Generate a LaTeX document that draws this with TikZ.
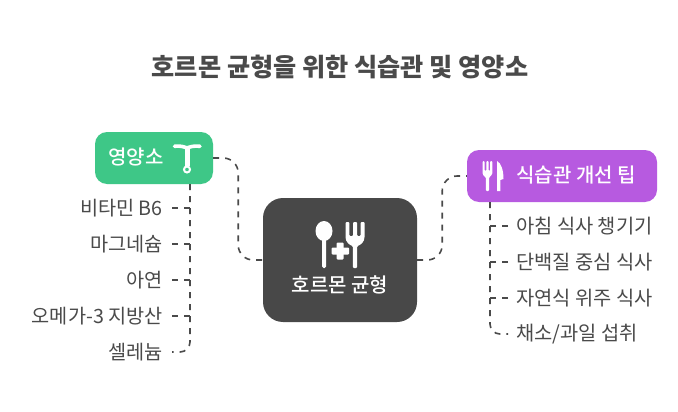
\documentclass[tikz,border=0pt]{standalone}
\usepackage{fontspec}
\setmainfont{Noto Sans CJK KR}
\newfontfamily\medf{Noto Sans CJK KR Medium}
\definecolor{gbox}{HTML}{3EC787}
\definecolor{pbox}{HTML}{B75AE0}
\definecolor{dbox}{HTML}{484848}
\definecolor{ink}{HTML}{4A4A4A}
\tikzset{
  box/.style={inner sep=0pt,rounded corners=12pt},
  boxtext/.style={text=white,inner sep=0pt,font=\medf\fontsize{20}{22}\selectfont},
  itemL/.style={anchor=east,inner xsep=9pt,inner ysep=0pt,text=ink,font=\fontsize{19.7}{22}\selectfont},
  itemR/.style={anchor=west,inner xsep=8pt,inner ysep=0pt,text=ink,font=\fontsize{19.8}{22}\selectfont},
  link/.style={draw=ink,line width=1.6pt,dash pattern=on 6pt off 6pt,rounded corners=15pt},
  icon/.style={fill=white,draw=none}
}
\begin{document}
\begin{tikzpicture}[x=1pt,y=-1pt]
\useasboundingbox (0,0) rectangle (678,412);
\fill[white] (0,0) rectangle (678,412);
\node[text=ink,font=\fontsize{25.2}{28}\selectfont\bfseries,inner sep=0pt] (title) at (340,67) {호르몬 균형을 위한 식습관 및 영양소};
\node[box,fill=gbox,minimum width=118pt,minimum height=52pt] (green) at (154,158) {};
\node[box,fill=pbox,minimum width=190pt,minimum height=52pt] (purple) at (562,176) {};
\node[box,fill=dbox,minimum width=154pt,minimum height=124pt,rounded corners=20pt] (center) at (340,260) {};
\node[boxtext] (gt) at (136,157) {영양소};
\node[boxtext] (pt) at (576,175) {식습관 개선 팁};
\node[boxtext] (ct) at (340,285) {호르몬 균형};
% items
\node[itemL] (a1) at (172,208) {비타민 B6};
\node[itemL] (a2) at (172,244) {마그네슘};
\node[itemL] (a3) at (172,280) {아연};
\node[itemL] (a4) at (172,316) {오메가-3 지방산};
\node[itemL] (a5) at (172,352) {셀레늄};
\node[itemR] (b1) at (508,226) {아침 식사 챙기기};
\node[itemR] (b2) at (508,262) {단백질 중심 식사};
\node[itemR] (b3) at (508,298) {자연식 위주 식사};
\node[itemR] (b4) at (508,334) {채소/과일 섭취};
% links
\draw[link] (green.east) -- ++(25,0) |- (center.west);
\draw[link] (center.east) -- ++(25,0) |- (purple.west);
\coordinate (gs) at (190,184);
\coordinate (ps) at (490,202);
\draw[link,rounded corners=10pt] (gs) -- (gs |- a5.east) -- (a5.east);
\draw[link,rounded corners=0pt] (a1.east) -- (gs |- a1.east);
\draw[link,rounded corners=0pt] (a2.east) -- (gs |- a2.east);
\draw[link,rounded corners=0pt] (a3.east) -- (gs |- a3.east);
\draw[link,rounded corners=0pt] (a4.east) -- (gs |- a4.east);
\draw[link,rounded corners=10pt] (ps) -- (ps |- b4.west) -- (b4.west);
\draw[link,rounded corners=0pt] (b1.west) -- (ps |- b1.west);
\draw[link,rounded corners=0pt] (b2.west) -- (ps |- b2.west);
\draw[link,rounded corners=0pt] (b3.west) -- (ps |- b3.west);
% IUD icon
\draw[white,line width=3.6pt,line cap=round] (174.5,146.3) .. controls (180,145.5) and (184,146.8) .. (187,148) .. controls (190,146.8) and (194,145.5) .. (200,146.3);
\draw[white,line width=5pt] (187,148) -- (187,166);
\draw[white,line width=2pt] (187,169.5) circle (3pt);
% purple fork and knife
\fill[icon,rounded corners=1pt] (482.5,161) -- (484.6,161) -- (484.6,171) -- (486.4,171) -- (486.4,161) -- (488.6,161) -- (488.6,171) -- (490.2,171) -- (490.2,161) -- (492.4,161) -- (492.4,172) .. controls (492.4,175) and (490,176.5) .. (489.2,177) -- (489.2,191) -- (485.8,191) -- (485.8,177) .. controls (484.5,176.5) and (482.5,175) .. (482.5,172) -- cycle;
\fill[icon] (497,161) .. controls (501,163) and (503.5,170) .. (503.5,179) -- (500.3,180) -- (500.3,191) -- (497,191) -- cycle;
% central spoon, plus, fork
\fill[icon] (324,231) ellipse (8.5pt and 10pt);
\fill[icon,rounded corners=1.5pt] (322,235) rectangle (326,268);
\fill[icon,rounded corners=1pt] (331.5,247.5) rectangle (349,254.5);
\fill[icon,rounded corners=1pt] (336.7,242.5) rectangle (343.7,259.5);
\fill[icon,rounded corners=1pt] (345.5,222) -- (349.3,222) -- (349.3,236) -- (353,236) -- (353,222) -- (357,222) -- (357,236) -- (360.7,236) -- (360.7,222) -- (364.5,222) -- (364.5,236) .. controls (364.5,242) and (360.5,245) .. (357.2,246) -- (357.2,268) -- (352.8,268) -- (352.8,246) .. controls (349.5,245) and (345.5,242) .. (345.5,236) -- cycle;
\end{tikzpicture}
\end{document}
